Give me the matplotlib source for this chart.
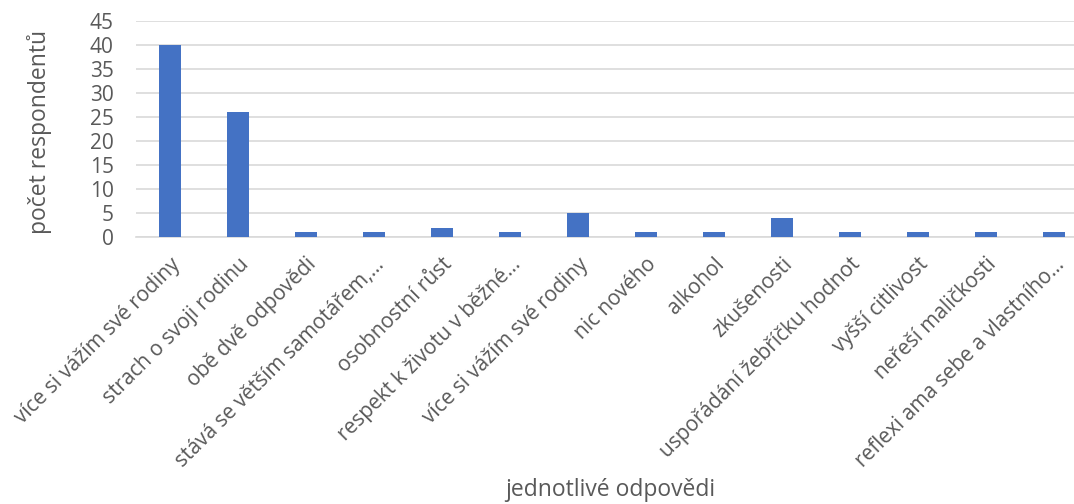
import matplotlib.pyplot as plt
import numpy as np

plt.rcParams['font.family'] = ['Open Sans', 'DejaVu Sans']

kategorie = ['více si vážím své rodiny', 'strach o svoji rodinu', 'obě dvě odpovědi',
             'stává se větším samotářem,…', 'osobnostní růst', 'respekt k životu v běžné…',
             'více si vážím své rodiny', 'nic nového', 'alkohol', 'zkušenosti',
             'uspořádání žebříčku hodnot', 'vyšší citlivost', 'neřeší maličkosti',
             'reflexi ama sebe a vlastního…']
pocty = [40, 26, 1, 1, 2, 1, 5, 1, 1, 4, 1, 1, 1, 1]
y_ticks = [0, 5, 10, 15, 20, 25, 30, 35, 40, 45]

seda = '#595959'
fig = plt.figure(figsize=(10.74, 5.04), dpi=100)
# plot area runs past the right edge of the picture, as in the original
ax = fig.add_axes([136 / 1074, 266.7 / 504, 952 / 1074, 216.6 / 504])
x = np.arange(len(kategorie))
ax.bar(x, pocty, width=0.32, color='#4472C4', zorder=3)

ax.set_xlim(-0.5, len(kategorie) - 0.5)
ax.set_ylim(0, 45)
ax.set_yticks(y_ticks)
ax.set_xticks(x)
ax.set_xticklabels(kategorie, rotation=45, ha='right', rotation_mode='anchor',
                   fontsize=15, color=seda)
ax.tick_params(axis='y', labelsize=15, labelcolor=seda, length=0, pad=16)
ax.tick_params(axis='x', length=0, pad=12)
ax.grid(axis='y', color='#D9D9D9', linewidth=1.2, zorder=0)
for s in ['top', 'right', 'left']:
    ax.spines[s].set_visible(False)
ax.spines['bottom'].set_color('#D9D9D9')
ax.spines['bottom'].set_linewidth(1.2)

fig.text(40 / 1074, 1 - 132 / 504, 'počet respondentů', rotation=90, fontsize=16.5,
         color=seda, ha='center', va='center')
fig.text(610 / 1074, 1 - 490 / 504, 'jednotlivé odpovědi', fontsize=16.5,
         color=seda, ha='center', va='center')

fig.savefig('out.png', dpi=100)
